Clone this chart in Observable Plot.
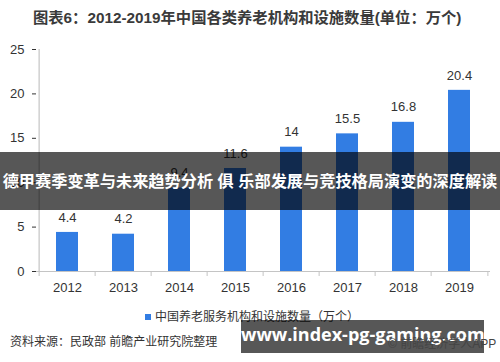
<!DOCTYPE html>
<html><head><meta charset="utf-8">
<script src="https://cdn.jsdelivr.net/npm/d3@7"></script>
<script src="https://cdn.jsdelivr.net/npm/@observablehq/plot@0.6"></script>
<style>
html,body{margin:0;padding:0;background:#fff;}
#wrap{position:relative;width:500px;height:362px;overflow:hidden;font-family:"Liberation Sans","Noto Sans CJK SC",sans-serif;color:#333;}
#wrap svg{position:absolute;left:0;top:0;}
.abs{position:absolute;white-space:nowrap;}
</style></head>
<body><div id="wrap"></div>
<script>
const titleText = "图表6：2012-2019年中国各类养老机构和设施数量(单位：万个)";
const years = ["2012","2013","2014","2015","2016","2017","2018","2019"];
const values = [4.4, 4.2, 9.4, 11.6, 14, 15.5, 16.8, 20.4];
const yTicks = [0, 5, 10, 15, 20, 25];
const legendText = "中国养老服务机构和设施数量（万个）";
const sourceText = "资料来源：民政部 前瞻产业研究院整理";
const bannerText = "德甲赛季变革与未来趋势分析 俱 乐部发展与竞技格局演变的深度解读";
const urlText = "www.index-pg-gaming.com";
const appText = "© 前瞻经济学人APP";

const data = years.map((y, i) => ({year: y, value: values[i]}));
const W = 500, H = 362, mL = 36, mR = 10, mT = 49, mB = 91;
const step = (W - mL - mR) / years.length;
const barColor = "#327de3";
const axisColor = "#c4c4c4";

const chart = Plot.plot({
  width: W, height: H,
  marginLeft: mL, marginRight: mR, marginTop: mT, marginBottom: mB,
  style: {fontFamily: '"Liberation Sans","Noto Sans CJK SC",sans-serif', fontSize: "13px", color: "#333", background: "transparent"},
  x: {type: "band", domain: years, paddingInner: 0.61, paddingOuter: 0.305, tickSize: 0, tickPadding: 11, label: null},
  y: {domain: [0, 25], ticks: yTicks, tickSize: 4, tickPadding: 8, label: null},
  marks: [
    Plot.barY(data, {x: "year", y: "value", fill: barColor}),
    Plot.ruleY([0], {stroke: axisColor, strokeWidth: 1.2}),
    Plot.ruleX([years[0]], {x: d => d, dx: -step / 2, stroke: axisColor, strokeWidth: 1.2}),
    Plot.ruleX(years, {x: d => d, y1: 0, y2: 0, dx: -step / 2, insetBottom: -5, stroke: axisColor}),
    Plot.ruleX([years[years.length - 1]], {x: d => d, y1: 0, y2: 0, dx: step / 2, insetBottom: -5, stroke: axisColor}),
    Plot.text(data, {x: "year", y: "value", text: d => String(d.value), dy: -15, fontSize: 13, fill: "#333"})
  ]
});
const wrap = document.getElementById("wrap");
wrap.appendChild(chart);

function addDiv(text, css) {
  const d = document.createElement("div");
  d.className = "abs";
  d.textContent = text;
  d.style.cssText += css;
  wrap.appendChild(d);
  return d;
}
addDiv(titleText, "left:33px;top:8px;font-size:15.3px;font-weight:bold;color:#3a3a3a;line-height:20px;");
// legend
const lg = document.createElement("div");
lg.className = "abs";
lg.style.cssText = "left:145px;top:309px;font-size:12px;line-height:16px;color:#333;display:flex;align-items:center;";
const sw = document.createElement("span");
sw.style.cssText = "display:inline-block;width:6px;height:6px;background:" + barColor + ";margin-right:4px;";
lg.appendChild(sw);
const lt = document.createElement("span");
lt.textContent = legendText;
lg.appendChild(lt);
wrap.appendChild(lg);
addDiv(sourceText, "left:10px;top:334px;font-size:12px;line-height:16px;color:#333;");
// overlays
addDiv("", "left:0;top:152px;width:500px;height:58px;background:rgba(0,0,0,0.66);");
addDiv(bannerText, "left:0;top:170px;width:500px;text-align:center;font-size:16.2px;font-weight:bold;color:#fff;line-height:22px;");
addDiv("", "left:241px;top:320px;width:243px;height:33px;background:rgba(0,0,0,0.66);");
addDiv(urlText, "left:241px;top:322px;width:243px;text-align:center;font-family:'Open Sans',sans-serif;font-size:18px;font-weight:bold;color:#fff;line-height:24px;");
addDiv(appText, "left:388px;top:336px;font-size:12px;line-height:16px;color:#444;");
</script></body></html>
